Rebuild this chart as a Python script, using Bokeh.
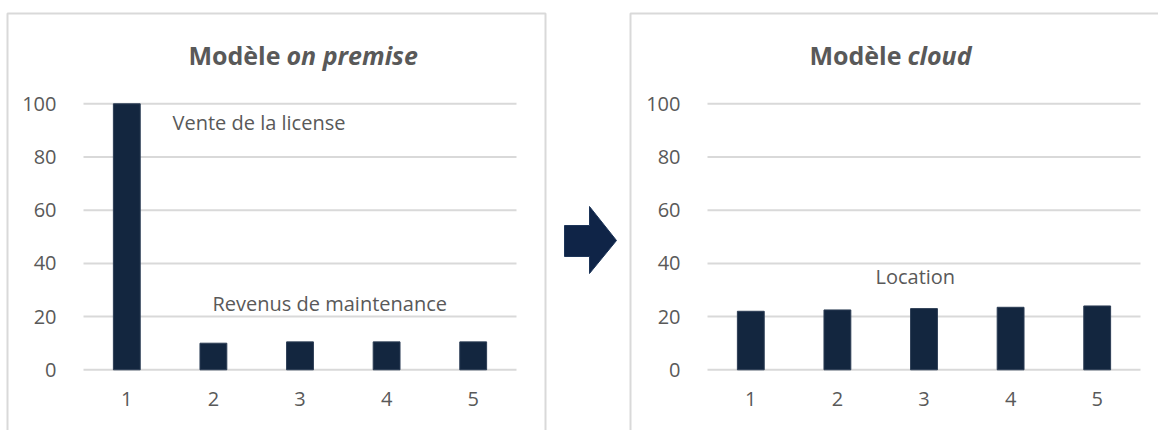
from bokeh.plotting import figure
from bokeh.layouts import row
from bokeh.models import Range1d, FixedTicker, Label, BoxAnnotation, PolyAnnotation, LinearAxis
from bokeh.embed import file_html
from bokeh.resources import INLINE

# ---- data ----
years = [1, 2, 3, 4, 5]
on_premise = [100, 10, 10.5, 10.5, 10.5]
cloud = [22, 22.5, 23, 23.5, 24]
y_ticks = [0, 20, 40, 60, 80, 100]
title_left = ("Modèle", "on premise")
title_right = ("Modèle", "cloud")
note_license = "Vente de la license"
note_maint = "Revenus de maintenance"
note_rent = "Location"

BAR = "#13263f"
GRAY = "#595959"
GRID = "#d9d9d9"
FONT = "Open Sans"

H = 430
ZERO_PY = 369.3
PX_PER_Y = 2.66
CAT_W = 86.6
TXT_SHIFT = 8  # compensate label baseline offset


def make_fig(width, left_px):
    x0 = 0.5 - left_px / CAT_W
    x1 = x0 + width / CAT_W
    y1 = ZERO_PY / PX_PER_Y
    y0 = -(H - ZERO_PY) / PX_PER_Y
    p = figure(width=width, height=H, output_backend="svg", toolbar_location=None,
               x_range=Range1d(x0, x1), y_range=Range1d(y0, y1),
               x_axis_location=None, y_axis_location=None,
               min_border=0, min_border_left=0, min_border_right=0,
               min_border_top=0, min_border_bottom=0,
               background_fill_color="white", border_fill_color="white",
               outline_line_color=None, tools="")
    p.grid.visible = False
    xa = LinearAxis(ticker=FixedTicker(ticks=years), fixed_location=0)
    ya = LinearAxis(ticker=FixedTicker(ticks=y_ticks), fixed_location=0.5)
    for ax in (xa, ya):
        ax.axis_line_color = None
        ax.major_tick_line_color = None
        ax.minor_tick_line_color = None
        ax.major_label_text_font = FONT
        ax.major_label_text_font_size = "20px"
        ax.major_label_text_color = GRAY
    ya.major_label_standoff = 21
    xa.major_label_standoff = 16
    p.add_layout(xa, "below")
    p.add_layout(ya, "left")
    # horizontal gridlines across the category span
    p.segment(x0=[0.5] * len(y_ticks), x1=[5.5] * len(y_ticks), y0=y_ticks, y1=y_ticks,
              line_color=GRID, line_width=2)
    return p


def conv(left):
    fx = lambda px: 0.5 + (px - left) / CAT_W
    fy = lambda py: (ZERO_PY - py) / PX_PER_Y
    return fx, fy


def title(p, fx, fy, words, join_px):
    p.add_layout(Label(x=fx(join_px), y=fy(62 - TXT_SHIFT), text=words[0], text_font=FONT,
                       text_font_style="bold", text_font_size="25px", text_color=GRAY,
                       text_align="right", text_baseline="alphabetic"))
    p.add_layout(Label(x=fx(join_px + 6), y=fy(62 - TXT_SHIFT), text=words[1], text_font=FONT,
                       text_font_style="bold italic", text_font_size="25px", text_color=GRAY,
                       text_align="left", text_baseline="alphabetic"))


def note(p, fx, fy, text, px, py):
    p.add_layout(Label(x=fx(px), y=fy(py - TXT_SHIFT), text=text, text_font=FONT,
                       text_font_size="20px", text_color=GRAY,
                       text_align="left", text_baseline="alphabetic"))


# ---- left panel ----
LW = 620
pl = make_fig(LW, 83)
fxl, fyl = conv(83)
pl.add_layout(BoxAnnotation(left=fxl(7), right=fxl(545), top=fyl(13), bottom=fyl(460),
                            fill_alpha=0, line_color=GRID, line_alpha=1, line_width=2,
                            level="underlay"))
pl.vbar(x=years, top=on_premise, width=0.31, fill_color=BAR, line_color="#2c3d55", line_width=1)
title(pl, fxl, fyl, title_left, 280)
note(pl, fxl, fyl, note_license, 172, 130)
note(pl, fxl, fyl, note_maint, 212, 311)
arrow_px = [(564, 225), (589, 225), (589, 206), (616, 240), (589, 273), (589, 256), (564, 256)]
pl.add_layout(PolyAnnotation(xs=[fxl(a) for a, b in arrow_px], ys=[fyl(b) for a, b in arrow_px],
                             fill_color="#0f2447", fill_alpha=1, line_color="#1d3559",
                             line_alpha=1, line_width=1))

# ---- right panel ----
RW = 1158 - LW
pr = make_fig(RW, 87)
fxr, fyr = conv(87)
pr.add_layout(BoxAnnotation(left=fxr(10), right=fxr(600), top=fyr(13), bottom=fyr(460),
                            fill_alpha=0, line_color=GRID, line_alpha=1, line_width=2,
                            level="underlay"))
pr.vbar(x=years, top=cloud, width=0.31, fill_color=BAR, line_color="#2c3d55", line_width=1)
title(pr, fxr, fyr, title_right, 281)
note(pr, fxr, fyr, note_rent, 255, 284)

layout = row(pl, pr, spacing=0)
open("out.html", "w").write(file_html(layout, INLINE))
